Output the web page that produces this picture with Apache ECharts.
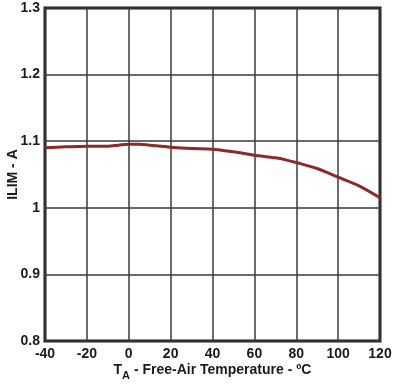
<!DOCTYPE html>
<html><head><meta charset="utf-8">
<script src="https://cdn.jsdelivr.net/npm/echarts@6/dist/echarts.min.js"></script>
<style>html,body{margin:0;padding:0;background:#fff}#c{width:401px;height:387px}</style>
</head><body><div id="c"></div>
<script>
const temps = [-40,-30,-20,-10,-5,0,5,10,20,30,40,50,60,70,75,80,90,100,110,120];
const ilim  = [1.090,1.0915,1.0925,1.0925,1.094,1.0955,1.0955,1.094,1.091,1.089,1.088,1.084,1.079,1.075,1.072,1.068,1.059,1.046,1.033,1.015];
const xTitle = 'T_A - Free-Air Temperature - ºC';
const yTitle = 'ILIM - A';
const chart = echarts.init(document.getElementById('c'));
const font = 'Liberation Sans, Arial, sans-serif';
chart.setOption({
  animation:false,
  grid:{left:45,right:21,top:8,bottom:46,show:true,borderColor:'#1a1a1a',borderWidth:3,backgroundColor:'transparent',outerBoundsMode:'none',containLabel:false},
  xAxis:{type:'value',min:-40,max:120,interval:20,
    axisLine:{show:false},axisTick:{show:false},
    splitLine:{lineStyle:{color:'#3a3a3a',width:1.5}},
    axisLabel:{color:'#1a1a1a',fontWeight:'bold',fontSize:14,fontFamily:font,margin:6},
    name:'{a|T}{b|A}{a| - Free-Air Temperature - ºC}',nameLocation:'middle',nameGap:22,nameMoveOverlap:false,
    nameTextStyle:{rich:{a:{color:'#1a1a1a',fontWeight:'bold',fontSize:14,fontFamily:font,verticalAlign:'top',lineHeight:18},
      b:{color:'#1a1a1a',fontWeight:'bold',fontSize:11,fontFamily:font,verticalAlign:'bottom',lineHeight:18,padding:[10,0,0,0]}}}
  },
  yAxis:{type:'value',min:0.8,max:1.3,interval:0.1,
    axisLine:{show:false},axisTick:{show:false},
    splitLine:{lineStyle:{color:'#3a3a3a',width:1.5}},
    axisLabel:{color:'#1a1a1a',fontWeight:'bold',fontSize:14,fontFamily:font,margin:5},
    name:yTitle,nameLocation:'middle',nameGap:25,nameMoveOverlap:false,
    nameTextStyle:{color:'#1a1a1a',fontWeight:'bold',fontSize:14,fontFamily:font}
  },
  series:[{type:'line',data:temps.map((t,i)=>[t,ilim[i]]),showSymbol:false,smooth:0.3,
    lineStyle:{color:'#8b2a2a',width:3}}]
});
</script></body></html>
